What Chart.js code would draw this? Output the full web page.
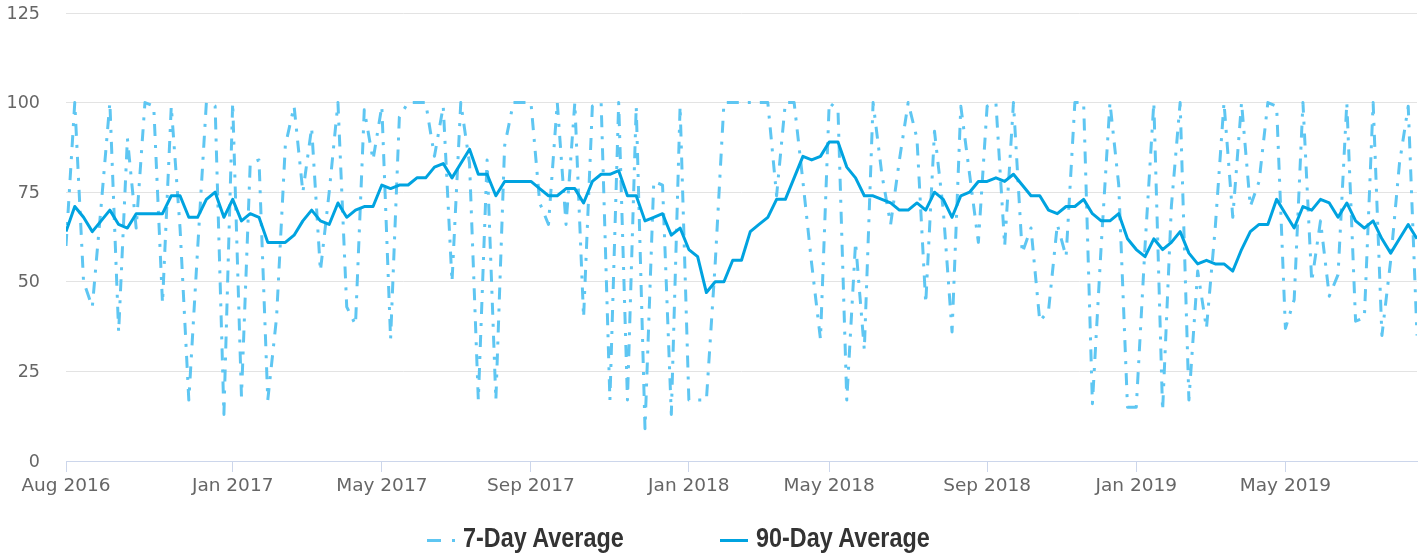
<!DOCTYPE html>
<html>
<head>
<meta charset="utf-8">
<script src="https://cdn.jsdelivr.net/npm/chart.js@4.4.1/dist/chart.umd.min.js"></script>
<style>
  html, body { margin: 0; padding: 0; background: #fff; }
  #wrap { position: relative; width: 1424px; height: 554px; }
  #chart { position: absolute; left: 0; top: 0; }
  #legend {
    position: absolute; left: 0; top: 522px; width: 1424px; height: 32px;
    font: bold 28px "Liberation Sans", Arial, sans-serif;
    color: #333;
  }
  #legend .sym { position: absolute; top: 17px; width: 28px; height: 3px; }
  #legend .txt {
    position: absolute; top: 0; line-height: 32px; white-space: nowrap;
    transform: scaleX(0.835); transform-origin: 0 0;
  }
</style>
</head>
<body>
<div id="wrap">
  <canvas id="chart" width="1424" height="554"></canvas>
  <div id="legend"></div>
</div>
<script>
// weekly points, index 0 = first week of Aug 2016
const tickWeeks = [0, 19, 36, 53, 71, 87, 105, 122, 139]
const tickLabels = ["Aug 2016", "Jan 2017", "May 2017", "Sep 2017", "Jan 2018", "May 2018", "Sep 2018", "Jan 2019", "May 2019"]

const sevenDay = [
  60, 100, 50, 43, 71, 100, 36, 90, 65, 100,
  99, 44, 99, 65, 17, 59, 100, 99, 13, 100,
  18, 83, 84, 17, 40, 88, 99, 75, 93, 53,
  75, 100, 43, 38, 98, 84, 99, 34, 96, 100,
  100, 100, 85, 99, 50, 100, 83, 17, 84, 17,
  88, 100, 100, 100, 72, 66, 100, 66, 100, 40,
  99, 100, 17, 100, 17, 99, 9, 78, 77, 13,
  99, 17, 17, 17, 55, 100, 100, 100, 100, 100,
  100, 74, 100, 100, 78, 55, 34, 100, 98, 17,
  61, 31, 100, 80, 66, 84, 100, 90, 44, 92,
  70, 36, 99, 80, 61, 99, 100, 60, 100, 58,
  65, 39, 42, 66, 57, 100, 100, 16, 60, 100,
  77, 15, 15, 60, 100, 14, 71, 100, 17, 53,
  37, 65, 100, 68, 100, 71, 78, 100, 99, 37,
  45, 100, 50, 67, 46, 52, 100, 39, 40, 100,
  35, 56, 83, 99, 35
]

const ninetyDay = [
  64, 71, 68, 64, 67, 70, 66, 65, 69, 69,
  69, 69, 74, 74, 68, 68, 73, 75, 68, 73,
  67, 69, 68, 61, 61, 61, 63, 67, 70, 67,
  66, 72, 68, 70, 71, 71, 77, 76, 77, 77,
  79, 79, 82, 83, 79, 83, 87, 80, 80, 74,
  78, 78, 78, 78, 76, 74, 74, 76, 76, 72,
  78, 80, 80, 81, 74, 74, 67, 68, 69, 63,
  65, 59, 57, 47, 50, 50, 56, 56, 64, 66,
  68, 73, 73, 79, 85, 84, 85, 89, 89, 82,
  79, 74, 74, 73, 72, 70, 70, 72, 70, 75,
  73, 68, 74, 75, 78, 78, 79, 78, 80, 77,
  74, 74, 70, 69, 71, 71, 73, 69, 67, 67,
  69, 62, 59, 57, 62, 59, 61, 64, 58, 55,
  56, 55, 55, 53, 59, 64, 66, 66, 73, 69,
  65, 71, 70, 73, 72, 68, 72, 67, 65, 67,
  62, 58, 62, 66, 62
]

// legend x positions (symbol left, text left)
const legendSym = [427, 720]
const legendTxt = [463, 756]

const lightBlue = "#5ec6f2"
const blue = "#00a3e0"

const chart = new Chart(document.getElementById("chart"), {
  type: "line",
  data: {
    datasets: [{
      label: "7-Day Average",
      data: sevenDay.map((v, i) => ({ x: i, y: v })),
      borderColor: lightBlue,
      borderWidth: 3,
      borderDash: [12, 9, 3, 9],
      borderJoinStyle: "round",
      pointRadius: 0,
      tension: 0,
      order: 1
    }, {
      label: "90-Day Average",
      data: ninetyDay.map((v, i) => ({ x: i, y: v })),
      borderColor: blue,
      borderWidth: 3,
      borderJoinStyle: "round",
      pointRadius: 0,
      tension: 0,
      order: 0
    }]
  },
  options: {
    responsive: false,
    animation: false,
    layout: { padding: { top: 13, right: 7, bottom: 0, left: 0 } },
    plugins: { legend: { display: false }, tooltip: { enabled: false } },
    scales: {
      x: {
        type: "linear",
        min: 0,
        max: sevenDay.length - 1,
        afterBuildTicks: s => { s.ticks = tickWeeks.map(v => ({ value: v })) },
        afterFit: s => { s.height = 93 },
        grid: { drawOnChartArea: false, drawTicks: true, tickLength: 11, color: "#ccd6eb" },
        border: { color: "#ccd6eb" },
        ticks: {
          autoSkip: false, maxRotation: 0, padding: 3, color: "#666",
          font: { family: "'DejaVu Sans', sans-serif", size: 18.5 },
          callback: v => tickLabels[tickWeeks.indexOf(v)]
        }
      },
      y: {
        min: 0,
        max: 125,
        afterFit: s => { s.width = 66; s.paddingTop = 0; s.paddingBottom = 0 },
        grid: { color: "#e3e3e3", drawTicks: false },
        border: { display: false },
        ticks: {
          stepSize: 25, padding: 26, labelOffset: 1, color: "#666",
          font: { family: "'DejaVu Sans', sans-serif", size: 17.5 }
        }
      }
    }
  }
})

// html legend built from the datasets
const legend = document.getElementById("legend")
chart.data.datasets.forEach((ds, i) => {
  const sym = document.createElement("span")
  sym.className = "sym"
  sym.style.left = legendSym[i] + "px"
  if (ds.borderDash) {
    sym.style.background = `linear-gradient(to right, ${ds.borderColor} 0 14px, transparent 14px 25px, ${ds.borderColor} 25px 28px, transparent 28px)`
  } else {
    sym.style.background = ds.borderColor
  }
  const txt = document.createElement("span")
  txt.className = "txt"
  txt.style.left = legendTxt[i] + "px"
  txt.textContent = ds.label
  legend.appendChild(sym)
  legend.appendChild(txt)
})
</script>
</body>
</html>
